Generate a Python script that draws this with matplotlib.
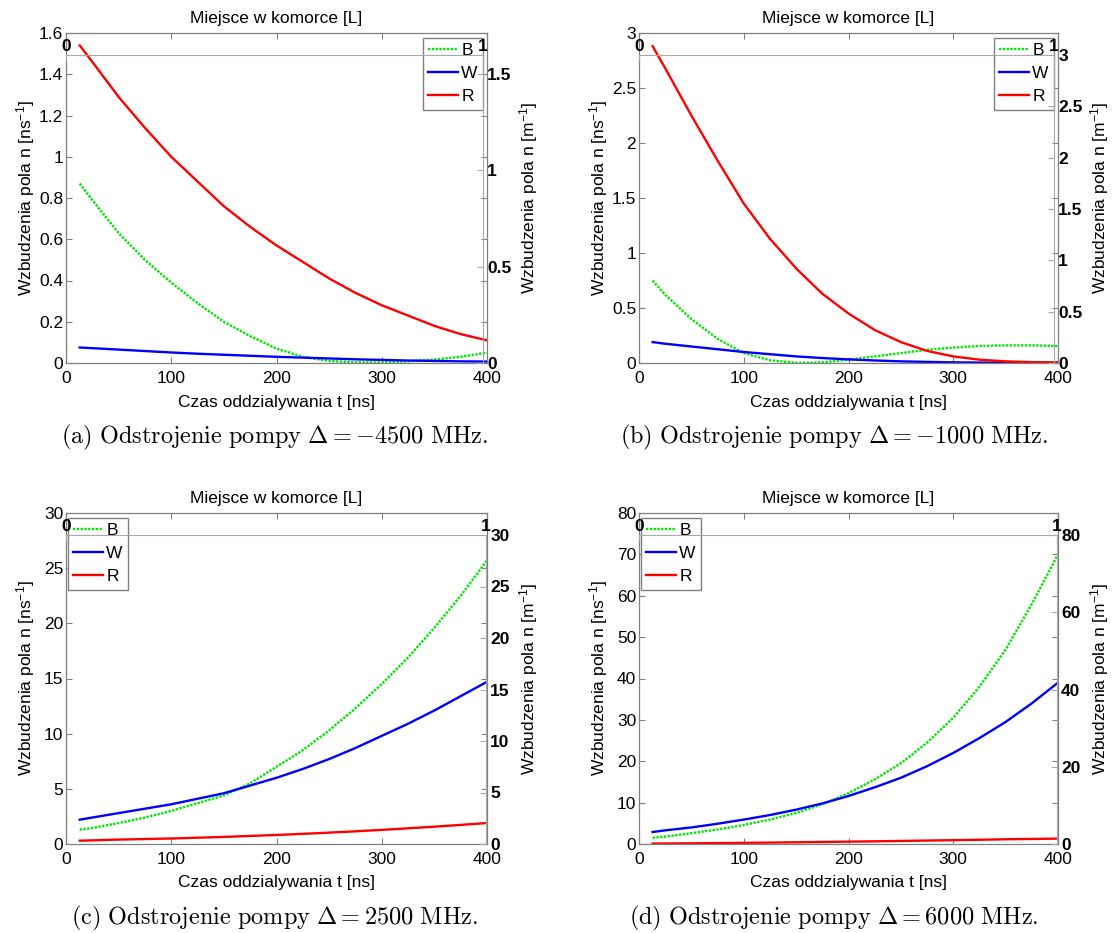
import matplotlib.pyplot as plt
from matplotlib.ticker import FormatStrFormatter

plt.rcParams['font.family'] = ['Liberation Sans', 'DejaVu Sans']
plt.rcParams['mathtext.fontset'] = 'custom'
plt.rcParams['mathtext.rm'] = 'Liberation Sans'
plt.rcParams['mathtext.it'] = 'Liberation Sans:italic'

# DATA
t_ns = [13, 25, 50, 75, 100, 125, 150, 175, 200, 225, 250, 275, 300, 325, 350, 375, 400]

B_a = [0.87, 0.79, 0.63, 0.50, 0.39, 0.29, 0.20, 0.13, 0.07, 0.03, 0.01, 0.003, 0.003, 0.008, 0.017, 0.03, 0.05]
W_a = [0.075, 0.072, 0.065, 0.058, 0.051, 0.045, 0.040, 0.035, 0.030, 0.026, 0.022, 0.018, 0.015, 0.012, 0.010, 0.008, 0.007]
R_a = [1.54, 1.46, 1.29, 1.14, 1.00, 0.88, 0.76, 0.66, 0.57, 0.49, 0.41, 0.34, 0.28, 0.23, 0.18, 0.14, 0.11]

B_b = [0.75, 0.62, 0.40, 0.22, 0.09, 0.025, 0.002, 0.005, 0.03, 0.06, 0.09, 0.12, 0.14, 0.155, 0.16, 0.16, 0.155]
W_b = [0.19, 0.175, 0.15, 0.125, 0.10, 0.08, 0.06, 0.045, 0.033, 0.023, 0.015, 0.01, 0.006, 0.004, 0.003, 0.002, 0.002]
R_b = [2.88, 2.68, 2.25, 1.84, 1.45, 1.13, 0.86, 0.63, 0.45, 0.30, 0.19, 0.11, 0.06, 0.03, 0.015, 0.008, 0.005]

B_c = [1.3, 1.45, 1.9, 2.4, 3.0, 3.7, 4.4, 5.5, 7.0, 8.5, 10.3, 12.3, 14.5, 16.9, 19.6, 22.5, 25.7]
W_c = [2.2, 2.4, 2.8, 3.2, 3.6, 4.1, 4.6, 5.3, 6.0, 6.8, 7.7, 8.7, 9.8, 10.9, 12.1, 13.4, 14.7]
R_c = [0.3, 0.33, 0.4, 0.45, 0.5, 0.57, 0.64, 0.73, 0.82, 0.92, 1.03, 1.15, 1.28, 1.42, 1.57, 1.73, 1.9]

B_d = [1.5, 1.8, 2.6, 3.5, 4.6, 5.9, 7.5, 9.6, 12.3, 15.6, 19.5, 24.5, 30.5, 38, 47, 58, 70]
W_d = [2.9, 3.3, 4.0, 4.9, 5.9, 7.0, 8.3, 9.8, 11.6, 13.7, 16.0, 18.8, 22.0, 25.6, 29.5, 34.0, 39.0]
R_d = [0.1, 0.12, 0.17, 0.22, 0.28, 0.34, 0.41, 0.49, 0.57, 0.65, 0.74, 0.83, 0.93, 1.03, 1.14, 1.22, 1.3]

y_max = [1.6, 3, 30, 80]
left_ticks = [[0, 0.2, 0.4, 0.6, 0.8, 1, 1.2, 1.4, 1.6],
              [0, 0.5, 1, 1.5, 2, 2.5, 3],
              [0, 5, 10, 15, 20, 25, 30],
              [0, 10, 20, 30, 40, 50, 60, 70, 80]]
right_ticks = [[0, 0.5, 1, 1.5],
               [0, 0.5, 1, 1.5, 2, 2.5, 3],
               [0, 5, 10, 15, 20, 25, 30],
               [0, 20, 40, 60, 80]]
detunings = ['-4500', '-1000', '2500', '6000']
letters = ['a', 'b', 'c', 'd']
series = [(B_a, W_a, R_a), (B_b, W_b, R_b), (B_c, W_c, R_c), (B_d, W_d, R_d)]

# layout in pixels: left, right, top, bottom, overlay right, overlay top
W, H = 1115, 933
boxes = [(66, 487, 33, 363, 483, 55),
         (639, 1058, 33, 363, 1054, 55),
         (66, 487, 513, 844, 486, 535),
         (639, 1058, 513, 844, 1057, 535)]
legend_loc = ['upper right', 'upper right', 'upper left', 'upper left']
legend_anchor = [(483, 38), (1054, 38), (68, 518), (641, 518)]
caption_x = [274, 834, 274, 834]

GRAY = '#808080'
LGRAY = '#a8a8a8'
FS = 12.5


def fx(x):
    return x / W


def fy(y):
    return 1 - y / H


fig = plt.figure(figsize=(11.15, 9.33), dpi=100)

for i in range(4):
    l, r, t, b, ro, to = boxes[i]
    ax = fig.add_axes([fx(l), fy(b), (r - l) / W, (b - t) / H])
    B, Wv, R = series[i]
    ax.plot(t_ns, B, color='#00e600', ls=(0, (1, 0.6)), lw=1.7, label='B')
    ax.plot(t_ns, Wv, color='#0000ff', lw=1.7, label='W')
    ax.plot(t_ns, R, color='#ff0000', lw=1.7, label='R')
    ax.set_xlim(0, 400)
    ax.set_ylim(0, y_max[i])
    ax.set_xticks([0, 100, 200, 300, 400])
    ax.set_yticks(left_ticks[i])
    ax.yaxis.set_major_formatter(FormatStrFormatter('%g'))
    ax.tick_params(direction='in', length=4, color=GRAY, labelsize=FS,
                   top=True, right=True)
    ax.tick_params(axis='x', pad=6)
    ax.tick_params(axis='y', pad=2)
    for s in ax.spines.values():
        s.set_color(GRAY)
        s.set_linewidth(0.9)
    ax.legend(loc=legend_loc[i], bbox_to_anchor=(fx(legend_anchor[i][0]), fy(legend_anchor[i][1])),
              bbox_transform=fig.transFigure, borderaxespad=0, fontsize=FS,
              fancybox=False, framealpha=1, edgecolor=GRAY, handlelength=1.7,
              handletextpad=0.2, labelspacing=0.45, borderpad=0.3)

    # second (overlay) axes: top scale 0..1 and right scale
    ov = fig.add_axes([fx(l), fy(b), (ro - l) / W, (b - to) / H], facecolor='none')
    ov.set_xlim(0, 1)
    ov.set_ylim(0, y_max[i])
    ov.xaxis.tick_top()
    ov.yaxis.tick_right()
    ov.set_xticks([0, 1], ['0', '1'], fontweight='bold')
    ov.set_yticks(right_ticks[i], ['%g' % v for v in right_ticks[i]], fontweight='bold')
    ov.tick_params(direction='in', length=4, color=LGRAY, labelsize=FS)
    ov.tick_params(axis='x', pad=1)
    ov.tick_params(axis='y', pad=3)
    ov.spines['left'].set_visible(False)
    ov.spines['bottom'].set_visible(False)
    ov.spines['top'].set_color(LGRAY)
    ov.spines['right'].set_color(LGRAY)

    cx = (l + r) / 2
    fig.text(fx(cx), fy(t - 15), 'Miejsce w komorce [L]', ha='center', va='center', fontsize=FS)
    fig.text(fx(cx), fy(b + 39), 'Czas oddzialywania t [ns]', ha='center', va='center', fontsize=FS)
    fig.text(fx(l - 40), fy((t + b) / 2), 'Wzbudzenia pola n [ns$^{-1}$]', ha='center', va='center',
             rotation=90, fontsize=FS)
    fig.text(fx(r + 42), fy((t + b) / 2), 'Wzbudzenia pola n [m$^{-1}$]', ha='center', va='center',
             rotation=90, fontsize=FS)
    cap = r'$\mathrm{(%s)\ Odstrojenie\ pompy\ }\Delta = %s\ \mathrm{MHz.}$' % (letters[i], detunings[i])
    fig.text(fx(caption_x[i]), fy(b + 74), cap, ha='center', va='center', fontsize=17.5,
             math_fontfamily='cm')

fig.savefig('out.png', dpi=100)
